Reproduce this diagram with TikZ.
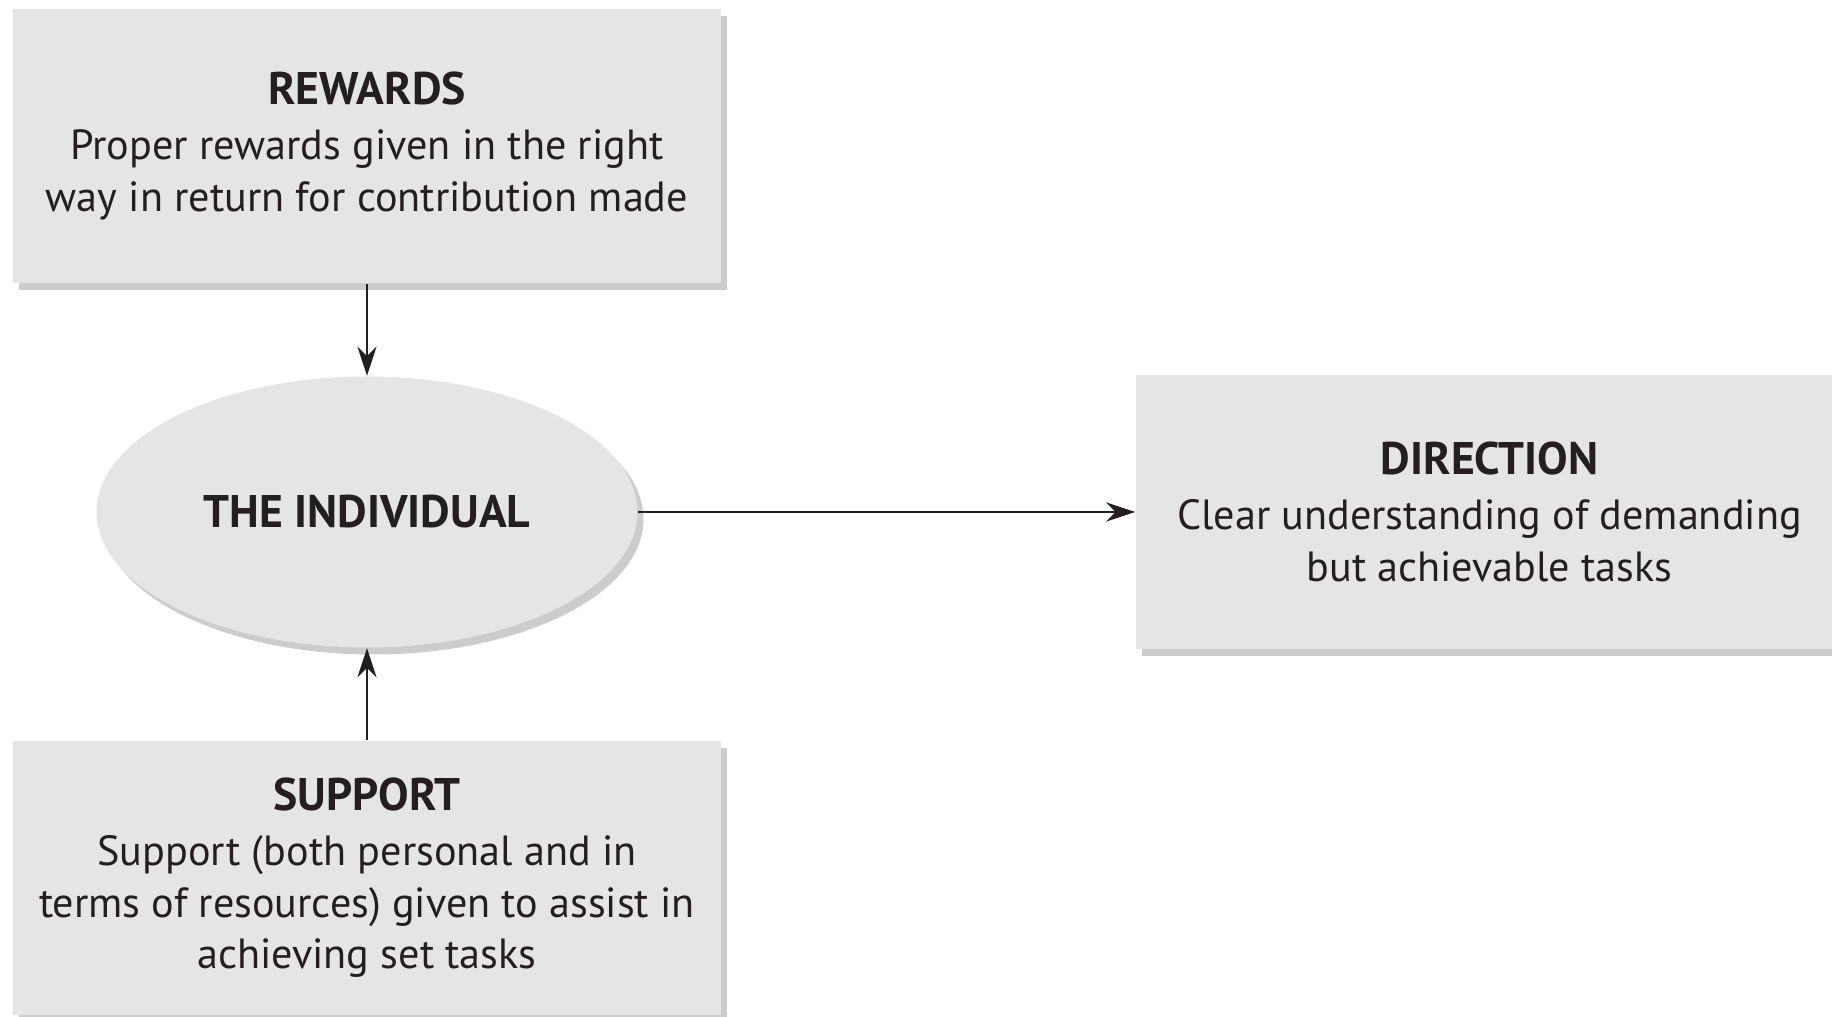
\documentclass[tikz,border=0pt]{standalone}
\usepackage{fontspec}
\setmainfont{PT Sans}
\usetikzlibrary{shapes.geometric,arrows.meta,shadows}
\definecolor{boxgray}{HTML}{E5E5E5}
\definecolor{inkgray}{HTML}{231F20}
\newcommand{\factortitle}[1]{{\fontsize{13}{14.6}\selectfont\bfseries #1}\\[0.8pt]}
\tikzset{
	boxshadow/.style={drop shadow={shadow xshift=0.06cm,shadow yshift=-0.07cm,fill=black!40,opacity=0.5}},
	factor/.style={rectangle,fill=boxgray,inner sep=0pt,minimum width=7.07cm,minimum height=2.74cm,
		align=center,text=inkgray,font=\fontsize{12}{14.7}\selectfont,boxshadow},
	person/.style={ellipse,fill=boxgray,inner sep=0pt,minimum width=5.41cm,minimum height=2.71cm,
		text=inkgray,font=\fontsize{13}{14.6}\selectfont\bfseries,boxshadow},
	link/.style={draw=inkgray,line width=0.8pt,-{Stealth[length=0.29cm,width=0.19cm]}}
}
\begin{document}
\begin{tikzpicture}
	\useasboundingbox (0,0) rectangle (18.32,-10.17);
	\node[factor] (rewards) at (3.67,-1.46) {\factortitle{REWARDS}Proper rewards given in the right\\way in return for contribution made};
	\node[person] (individual) at (3.67,-5.12) {THE INDIVIDUAL};
	\node[factor] (direction) at (14.895,-5.12) {\factortitle{DIRECTION}Clear understanding of demanding\\but achievable tasks};
	\node[factor] (support) at (3.67,-8.78) {\factortitle{SUPPORT}Support (both personal and in\\terms of resources) given to assist in\\achieving set tasks};
	\draw[link] (rewards) -- (individual);
	\draw[link] (support) -- (individual);
	\draw[link] (individual) -- (direction);
\end{tikzpicture}
\end{document}
